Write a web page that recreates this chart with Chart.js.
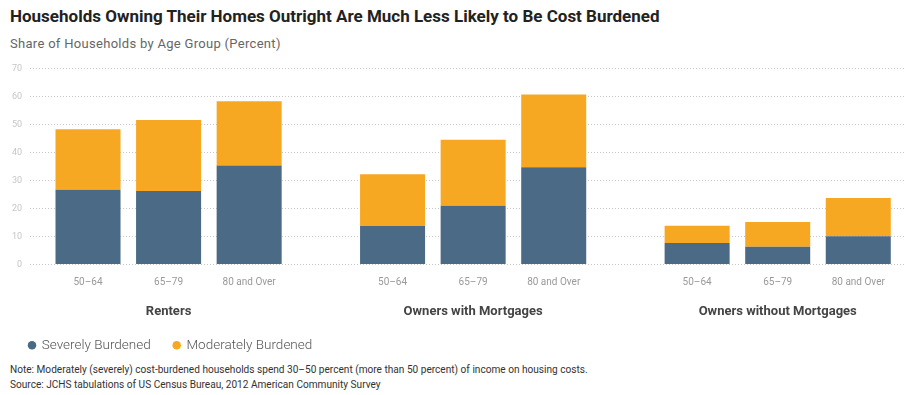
<!DOCTYPE html>
<html>
<head>
<meta charset="utf-8">
<script src="https://cdn.jsdelivr.net/npm/chart.js@4"></script>
<style>
  body { margin: 0; background: #fff; width: 909px; height: 395px; overflow: hidden; position: relative; font-family: Roboto, sans-serif; }
  .title { position: absolute; left: 10px; top: 6px; font-size: 17px; font-weight: 700; color: #222; white-space: nowrap; }
  .subtitle { position: absolute; left: 10px; top: 36px; font-size: 13px; letter-spacing: 0.3px; color: #666; white-space: nowrap; }
  .chart-box { position: absolute; left: 0; top: 55px; width: 909px; height: 307px; }
  .notes { position: absolute; left: 10px; top: 362px; font-size: 10.1px; line-height: 15px; color: #333; white-space: nowrap; }
</style>
</head>
<body>
<div class="title">Households Owning Their Homes Outright Are Much Less Likely to Be Cost Burdened</div>
<div class="subtitle">Share of Households by Age Group (Percent)</div>
<div class="chart-box"><canvas id="chart"></canvas></div>
<div class="notes">
  Note: Moderately (severely) cost-burdened households spend 30–50 percent (more than 50 percent) of income on housing costs.<br>
  Source: JCHS tabulations of US Census Bureau, 2012 American Community Survey
</div>
<script>
const tenureGroups = ['Renters', 'Owners with Mortgages', 'Owners without Mortgages'];
const ageGroups = ['50–64', '65–79', '80 and Over'];
// one value per tenure/age pair, in tenure order
const severelyBurdened = [26.7, 26.2, 35.3, 13.7, 21.0, 34.7, 7.7, 6.3, 10.1];
const moderatelyBurdened = [21.6, 25.4, 23.0, 18.5, 23.5, 26.0, 6.1, 8.9, 13.6];
const yTicks = [0, 10, 20, 30, 40, 50, 60, 70];

const BLUE = '#4a6a86';
const ORANGE = '#f7a823';
const GROUP_STRIDE = 3.78; // tenure groups are spaced a little wider than the bars

function xPos(i) {
    const g = Math.floor(i / ageGroups.length);
    return g * GROUP_STRIDE + (i % ageGroups.length);
}
const barX = severelyBurdened.map((_, i) => xPos(i));

const groupLabels = {
    id: 'groupLabels',
    afterDraw(chart) {
        const ctx = chart.ctx;
        const x = chart.scales.x;
        ctx.save();
        ctx.font = 'bold 13px Roboto';
        ctx.fillStyle = '#444';
        ctx.textAlign = 'center';
        ctx.textBaseline = 'middle';
        tenureGroups.forEach((name, g) => {
            ctx.fillText(name, x.getPixelForValue(g * GROUP_STRIDE + 1), x.top + 47);
        });
        ctx.restore();
    }
};

new Chart(document.getElementById('chart').getContext('2d'), {
    type: 'bar',
    data: {
        datasets: [
            { label: 'Severely Burdened', data: severelyBurdened.map((v, i) => ({ x: barX[i], y: v })), backgroundColor: BLUE, pointStyle: 'circle' },
            { label: 'Moderately Burdened', data: moderatelyBurdened.map((v, i) => ({ x: barX[i], y: v })), backgroundColor: ORANGE, pointStyle: 'circle' }
        ]
    },
    options: {
        responsive: true,
        maintainAspectRatio: false,
        animation: false,
        categoryPercentage: 1,
        barPercentage: 0.807,
        layout: { padding: { top: 8, left: 6, right: 4, bottom: 0 } },
        plugins: {
            tooltip: { enabled: false },
            legend: {
                position: 'bottom',
                align: 'start',
                labels: { usePointStyle: true, pointStyle: 'circle', boxWidth: 6, boxHeight: 6, color: '#555', font: { family: 'Roboto', size: 13.5, weight: 300 }, padding: 23 }
            }
        },
        scales: {
            x: {
                type: 'linear',
                offset: false,
                min: -0.72,
                max: barX[barX.length - 1] + 0.58,
                stacked: true,
                grid: { display: false },
                border: { display: false },
                afterBuildTicks: scale => { scale.ticks = barX.map(v => ({ value: v })); },
                afterFit: scale => { scale.height += 23; },
                ticks: {
                    autoSkip: false,
                    maxRotation: 0,
                    padding: 4,
                    color: '#999',
                    font: { family: 'Roboto', size: 10 },
                    callback: (value, index) => ageGroups[index % ageGroups.length]
                }
            },
            y: {
                stacked: true,
                min: 0,
                max: 70,
                afterBuildTicks: scale => { scale.ticks = yTicks.map(v => ({ value: v })); },
                afterFit: scale => { scale.width = 24; },
                border: { display: false, dash: [1, 2] },
                grid: { color: '#c8c8c8', lineWidth: 1, tickLength: 0 },
                ticks: { color: '#c6c6c6', padding: 8, font: { family: 'Roboto', size: 9 } }
            }
        }
    },
    plugins: [groupLabels]
});
</script>
</body>
</html>
